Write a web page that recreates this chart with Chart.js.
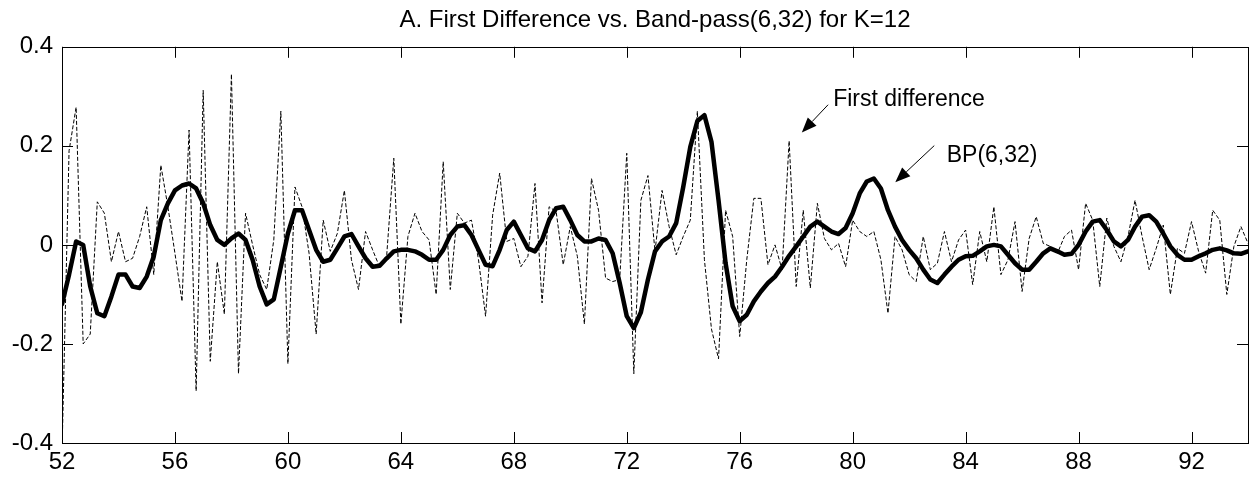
<!DOCTYPE html>
<html>
<head>
<meta charset="utf-8">
<script src="https://cdn.jsdelivr.net/npm/chart.js@4.4.1/dist/chart.umd.min.js"></script>
<style>
  html, body { margin: 0; padding: 0; background: #fff; }
  canvas { display: block; }
</style>
</head>
<body>
<canvas id="chart" width="1251" height="483"></canvas>
<script>
// quarterly observations, 1952:1 .. 1994:1 (one row per year)
const startYear = 52;

const bandPass = [
  -0.120, -0.060,  0.007,  0.000,   // 52
  -0.084, -0.138, -0.144, -0.104,   // 53
  -0.060, -0.060, -0.084, -0.087,   // 54
  -0.064, -0.023,  0.050,  0.084,   // 55
   0.110,  0.120,  0.124,  0.114,   // 56
   0.084,  0.040,  0.010,  0.000,   // 57
   0.013,  0.023,  0.010, -0.030,   // 58
  -0.084, -0.120, -0.110, -0.044,   // 59
   0.023,  0.070,  0.070,  0.030,   // 60
  -0.010, -0.034, -0.030, -0.007,   // 61
   0.017,  0.022, -0.003, -0.027,   // 62
  -0.044, -0.042, -0.027, -0.013,   // 63
  -0.010, -0.010, -0.013, -0.020,   // 64
  -0.030, -0.030, -0.010,  0.020,   // 65
   0.037,  0.040,  0.020, -0.010,   // 66
  -0.040, -0.043, -0.010,  0.030,   // 67
   0.047,  0.020, -0.007, -0.013,   // 68
   0.010,  0.050,  0.074,  0.077,   // 69
   0.050,  0.020,  0.007,  0.007,   // 70
   0.013,  0.010, -0.017, -0.077,   // 71
  -0.144, -0.168, -0.136, -0.070,   // 72
  -0.013,  0.007,  0.017,  0.044,   // 73
   0.117,  0.198,  0.250,  0.262,   // 74
   0.208,  0.090, -0.037, -0.124,   // 75
  -0.154, -0.141, -0.114, -0.094,   // 76
  -0.077, -0.064, -0.044, -0.022,   // 77
  -0.003,  0.017,  0.037,  0.047,   // 78
   0.037,  0.027,  0.022,  0.034,   // 79
   0.064,  0.104,  0.128,  0.134,   // 80
   0.114,  0.070,  0.037,  0.010,   // 81
  -0.010, -0.027, -0.050, -0.070,   // 82
  -0.077, -0.060, -0.044, -0.030,   // 83
  -0.023, -0.022, -0.013, -0.003,   // 84
   0.000, -0.003, -0.020, -0.037,   // 85
  -0.050, -0.050, -0.034, -0.017,   // 86
  -0.007, -0.013, -0.020, -0.018,   // 87
   0.000,  0.027,  0.047,  0.050,   // 88
   0.030,  0.007, -0.003,  0.010,   // 89
   0.037,  0.057,  0.060,  0.047,   // 90
   0.023, -0.003, -0.020, -0.030,   // 91
  -0.030, -0.023, -0.017, -0.010,   // 92
  -0.007, -0.011, -0.017, -0.018,   // 93
  -0.013                            // 94
];

const firstDiff = [
  -0.420,  0.190,  0.278, -0.200,   // 52
  -0.180,  0.087,  0.064, -0.034,   // 53
   0.027, -0.034, -0.027,  0.017,   // 54
   0.077, -0.060,  0.161,  0.077,   // 55
  -0.017, -0.114,  0.232, -0.295,   // 56
   0.312, -0.235, -0.034, -0.140,   // 57
   0.345, -0.260,  0.064,  0.000,   // 58
  -0.060, -0.090,  0.010,  0.270,   // 59
  -0.240,  0.117,  0.077, -0.017,   // 60
  -0.180,  0.050, -0.013,  0.023,   // 61
   0.110, -0.030, -0.090,  0.027,   // 62
  -0.010, -0.045, -0.020,  0.175,   // 63
  -0.160,  0.017,  0.064,  0.027,   // 64
   0.010, -0.100,  0.168, -0.090,   // 65
   0.064,  0.044,  0.050, -0.030,   // 66
  -0.144,  0.060,  0.145,  0.007,   // 67
   0.013, -0.044, -0.023,  0.124,   // 68
  -0.117,  0.077,  0.067, -0.040,   // 69
   0.037, -0.023, -0.160,  0.134,   // 70
   0.070, -0.067, -0.074, -0.070,   // 71
   0.185, -0.260,  0.090,  0.140,   // 72
  -0.013,  0.110,  0.037, -0.020,   // 73
   0.017,  0.050,  0.270, -0.030,   // 74
  -0.170, -0.230,  0.070,  0.017,   // 75
  -0.185, -0.030,  0.094,  0.094,   // 76
  -0.040,  0.000, -0.050,  0.210,   // 77
  -0.084,  0.070, -0.087,  0.084,   // 78
   0.013, -0.010,  0.003, -0.044,   // 79
   0.050,  0.027,  0.017,  0.027,   // 80
  -0.030, -0.138,  0.017, -0.010,   // 81
  -0.060, -0.074,  0.017, -0.050,   // 82
  -0.037,  0.027, -0.034,  0.010,   // 83
   0.030, -0.080,  0.027, -0.034,   // 84
   0.077, -0.060, -0.030,  0.047,   // 85
  -0.094,  0.013,  0.057,  0.003,   // 86
  -0.003, -0.017,  0.017,  0.030,   // 87
  -0.050,  0.084,  0.050, -0.084,   // 88
   0.054, -0.003, -0.034,  0.017,   // 89
   0.090,  0.017, -0.050, -0.007,   // 90
   0.040, -0.100, -0.007, -0.017,   // 91
   0.047, -0.013, -0.057,  0.070,   // 92
   0.050, -0.100, -0.003,  0.037,   // 93
   0.003                            // 94
];

const xTicks = [52, 56, 60, 64, 68, 72, 76, 80, 84, 88, 92];
const yTicks = [-0.4, -0.2, 0, 0.2, 0.4];

const titleText = 'A. First Difference vs. Band-pass(6,32) for K=12';

// labels with arrows, given in data units
const notes = [
  { text: 'First difference', x: 79.31, y: 0.281, fromX: 79.13, fromY: 0.283, toX: 78.2, toY: 0.227 },
  { text: 'BP(6,32)', x: 83.33, y: 0.168, fromX: 82.89, fromY: 0.2005, toX: 81.51, toY: 0.1266 }
];

const FONT = "Arial, 'Liberation Sans', Helvetica, sans-serif";

const toPoints = arr => arr.map((v, i) => ({ x: startYear + i / 4, y: v }));

// box around the plot with inward tick marks (matlab style)
const boxPlugin = {
  id: 'box',
  afterDraw(chart) {
    const { ctx, chartArea: a, scales } = chart;
    const len = 11;
    ctx.save();
    ctx.strokeStyle = '#000';
    ctx.lineWidth = 1;
    ctx.strokeRect(Math.round(a.left) + 0.5, Math.round(a.top) + 0.5,
      Math.round(a.right - a.left), Math.round(a.bottom - a.top));
    ctx.beginPath();
    xTicks.forEach(v => {
      const px = Math.round(scales.x.getPixelForValue(v)) + 0.5;
      ctx.moveTo(px, a.bottom); ctx.lineTo(px, a.bottom - len);
      ctx.moveTo(px, a.top); ctx.lineTo(px, a.top + len);
    });
    yTicks.forEach(v => {
      const py = Math.round(scales.y.getPixelForValue(v)) + 0.5;
      ctx.moveTo(a.left, py); ctx.lineTo(a.left + len, py);
      ctx.moveTo(a.right, py); ctx.lineTo(a.right - len, py);
    });
    ctx.stroke();
    ctx.restore();
  }
};

const notesPlugin = {
  id: 'notes',
  afterDraw(chart) {
    const { ctx, scales } = chart;
    ctx.save();
    ctx.fillStyle = '#000';
    ctx.strokeStyle = '#000';
    ctx.font = '23px ' + FONT;
    ctx.textBaseline = 'alphabetic';
    notes.forEach(n => {
      ctx.fillText(n.text, scales.x.getPixelForValue(n.x), scales.y.getPixelForValue(n.y));
      const x1 = scales.x.getPixelForValue(n.fromX), y1 = scales.y.getPixelForValue(n.fromY);
      const x2 = scales.x.getPixelForValue(n.toX), y2 = scales.y.getPixelForValue(n.toY);
      const ang = Math.atan2(y2 - y1, x2 - x1);
      const head = 15, half = 6;
      const bx = x2 - head * Math.cos(ang), by = y2 - head * Math.sin(ang);
      ctx.lineWidth = 1;
      ctx.beginPath();
      ctx.moveTo(x1, y1); ctx.lineTo(bx, by);
      ctx.stroke();
      ctx.beginPath();
      ctx.moveTo(x2, y2);
      ctx.lineTo(bx + half * Math.sin(ang), by - half * Math.cos(ang));
      ctx.lineTo(bx - half * Math.sin(ang), by + half * Math.cos(ang));
      ctx.closePath();
      ctx.fill();
    });
    ctx.restore();
  }
};

new Chart(document.getElementById('chart'), {
  type: 'line',
  data: {
    datasets: [
      {
        label: 'BP(6,32)',
        data: toPoints(bandPass),
        borderColor: '#000',
        borderWidth: 4.5,
        borderJoinStyle: 'round',
        borderCapStyle: 'round',
        pointRadius: 0,
        tension: 0
      },
      {
        label: 'First difference',
        data: toPoints(firstDiff),
        borderColor: '#000',
        borderWidth: 1,
        borderDash: [4, 2],
        pointRadius: 0,
        tension: 0
      }
    ]
  },
  options: {
    responsive: false,
    animation: false,
    events: [],
    layout: { padding: { left: 0, right: 3, top: 0, bottom: 0 } },
    plugins: {
      legend: { display: false },
      tooltip: { enabled: false },
      title: {
        display: true,
        text: titleText,
        fullSize: false,
        color: '#000',
        font: { family: FONT, size: 24, weight: 'normal', lineHeight: 1.2 },
        padding: { top: 6, bottom: 12 }
      }
    },
    scales: {
      x: {
        type: 'linear',
        min: 52,
        max: 94,
        afterBuildTicks: s => { s.ticks = xTicks.map(v => ({ value: v })); },
        afterFit: s => { s.height = 40; },
        grid: { display: false, drawTicks: false },
        border: { display: false },
        ticks: {
          color: '#000',
          padding: 5,
          maxRotation: 0,
          autoSkip: false,
          font: { family: FONT, size: 24 },
          callback: v => String(v)
        }
      },
      y: {
        type: 'linear',
        min: -0.4,
        max: 0.4,
        afterBuildTicks: s => { s.ticks = yTicks.map(v => ({ value: v })); },
        afterFit: s => { s.width = 62; },
        grid: { display: false, drawTicks: false },
        border: { display: false },
        ticks: {
          color: '#000',
          padding: 9,
          font: { family: FONT, size: 24 },
          callback: v => String(Math.round(v * 10) / 10)
        }
      }
    }
  },
  plugins: [boxPlugin, notesPlugin]
});
</script>
</body>
</html>
